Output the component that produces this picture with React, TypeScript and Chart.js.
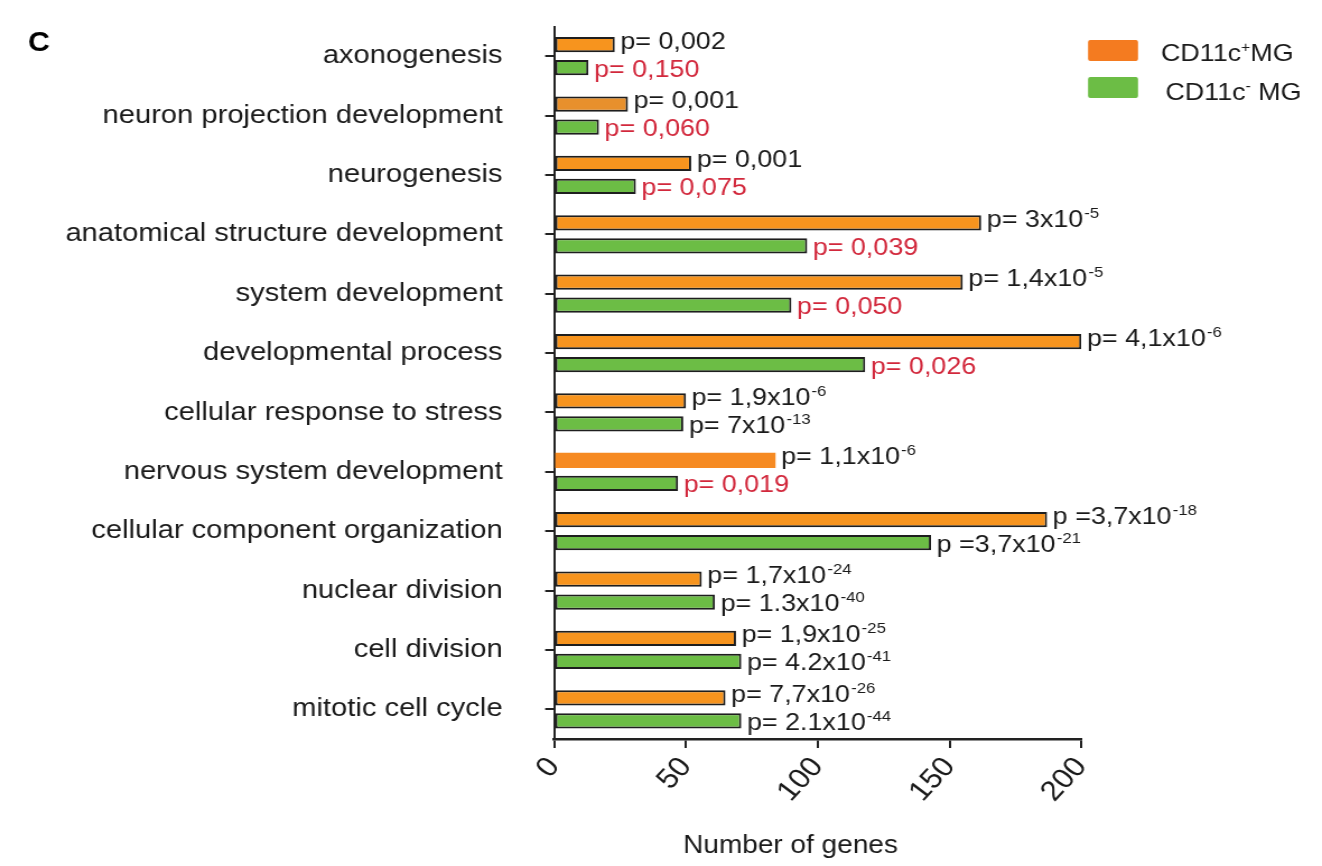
import React, { useEffect, useRef } from "react";
import { Chart, registerables } from "chart.js";

Chart.register(...registerables);

// ---------------- data ----------------
const categories = [
  "axonogenesis",
  "neuron projection development",
  "neurogenesis",
  "anatomical structure development",
  "system development",
  "developmental process",
  "cellular response to stress",
  "nervous system development",
  "cellular component organization",
  "nuclear division",
  "cell division",
  "mitotic cell cycle",
];

const cd11cPosGenes = [23, 28, 52, 162, 155, 200, 50, 84, 187, 56, 69, 65];
const cd11cNegGenes = [13, 17, 31, 96, 90, 118, 49, 47, 143, 61, 71, 71];

const cd11cPosPBase = [
  "p= 0,002", "p= 0,001", "p= 0,001", "p= 3x10", "p= 1,4x10", "p= 4,1x10",
  "p= 1,9x10", "p= 1,1x10", "p =3,7x10", "p= 1,7x10", "p= 1,9x10", "p= 7,7x10",
];
const cd11cPosPExp = ["", "", "", "-5", "-5", "-6", "-6", "-6", "-18", "-24", "-25", "-26"];

const cd11cNegPBase = [
  "p= 0,150", "p= 0,060", "p= 0,075", "p= 0,039", "p= 0,050", "p= 0,026",
  "p= 7x10", "p= 0,019", "p =3,7x10", "p= 1.3x10", "p= 4.2x10", "p= 2.1x10",
];
const cd11cNegPExp = ["", "", "", "", "", "", "-13", "", "-21", "-40", "-41", "-44"];
const cd11cNegNotSignificant = [true, true, true, true, true, true, false, true, false, false, false, false];

const xTickValues = [0, 50, 100, 150, 200];
const xTitle = "Number of genes";
const panelLetter = "C";

// ---------------- styles ----------------
const STRETCH = 1.12; // the reference figure is horizontally stretched
const CSS_W = 1322;
const CSS_H = 866;
const CW = Math.round(CSS_W / STRETCH);
const CH = CSS_H;

const FONT = '"Liberation Sans", Arial, Helvetica, sans-serif';
const TEXT = "#1a1a1a";
const RED = "#D2283C";
const ORANGE = "#F7941E";
const GREEN = "#6CBD45";
const BORDER = "#1e1e1e";
const posColors = [ORANGE, "#E8902C", ORANGE, ORANGE, ORANGE, ORANGE, ORANGE, "#F68A22", ORANGE, ORANGE, ORANGE, ORANGE];
const posBorders = [2, 2, 2, 2, 2, 2, 2, 0, 2, 2, 2, 2];

function drawPText(ctx: CanvasRenderingContext2D, x: number, y: number, base: string, exp: string, color: string) {
  ctx.fillStyle = color;
  ctx.textAlign = "left";
  ctx.textBaseline = "alphabetic";
  ctx.font = `24px ${FONT}`;
  ctx.fillText(base, x, y);
  if (exp) {
    const w = ctx.measureText(base).width;
    ctx.font = `15px ${FONT}`;
    ctx.fillText(exp, x + w + 1, y - 9);
  }
}

const annotationPlugin = {
  id: "annotations",
  afterDatasetsDraw(chart: any) {
    const ctx: CanvasRenderingContext2D = chart.ctx;
    ctx.save();
    const posMeta = chart.getDatasetMeta(0);
    posMeta.data.forEach((bar: any, j: number) => {
      drawPText(ctx, bar.x + 5, bar.y + 4, cd11cPosPBase[j], cd11cPosPExp[j], TEXT);
    });
    const negMeta = chart.getDatasetMeta(1);
    negMeta.data.forEach((bar: any, j: number) => {
      drawPText(ctx, bar.x + 5, bar.y + 9, cd11cNegPBase[j], cd11cNegPExp[j], cd11cNegNotSignificant[j] ? RED : TEXT);
    });
    ctx.restore();
  },
  afterDraw(chart: any) {
    const ctx: CanvasRenderingContext2D = chart.ctx;
    const area = chart.chartArea;
    ctx.save();
    // panel letter
    ctx.fillStyle = "#000";
    ctx.font = `bold 27px ${FONT}`;
    ctx.textAlign = "left";
    ctx.textBaseline = "alphabetic";
    ctx.fillText(panelLetter, 25, 51);

    // axis title
    ctx.fillStyle = TEXT;
    ctx.font = `25px ${FONT}`;
    ctx.textAlign = "center";
    ctx.fillText(xTitle, area.left + 211, 853);

    // legend
    const lx = area.right + 6;
    const tx = lx + 65;
    const entries = [
      { color: "#F47B20", top: 40, pre: "CD11c", sup: "+", post: "MG", base: 61 },
      { color: GREEN, top: 77, pre: "CD11c", sup: "-", post: " MG", base: 100 },
    ];
    entries.forEach((e, i) => {
      ctx.fillStyle = e.color;
      ctx.beginPath();
      (ctx as any).roundRect ? (ctx as any).roundRect(lx, e.top, 44.6, 21, 2) : ctx.rect(lx, e.top, 44.6, 21);
      ctx.fill();
      ctx.fillStyle = TEXT;
      ctx.textAlign = "left";
      ctx.font = `24px ${FONT}`;
      const x0 = tx + (i === 1 ? 4 : 0);
      ctx.fillText(e.pre, x0, e.base);
      let w = ctx.measureText(e.pre).width;
      ctx.font = `14px ${FONT}`;
      ctx.fillText(e.sup, x0 + w, e.base - 9);
      w += ctx.measureText(e.sup).width;
      ctx.font = `24px ${FONT}`;
      ctx.fillText(e.post, x0 + w, e.base);
    });
    ctx.restore();
  },
};

export default function App() {
  const ref = useRef<HTMLCanvasElement>(null);
  useEffect(() => {
    document.body.style.margin = "0";
    document.body.style.overflow = "hidden";
    Chart.defaults.font.family = FONT;
    const chart = new Chart(ref.current as HTMLCanvasElement, {
      type: "bar",
      data: {
        labels: categories,
        datasets: [
          {
            label: "CD11c+MG",
            data: cd11cPosGenes,
            backgroundColor: posColors,
            borderColor: BORDER,
            borderWidth: posBorders,
            borderSkipped: false,
            categoryPercentage: 0.776,
            barPercentage: 0.66,
          },
          {
            label: "CD11c- MG",
            data: cd11cNegGenes,
            backgroundColor: GREEN,
            borderColor: BORDER,
            borderWidth: 2,
            borderSkipped: false,
            categoryPercentage: 0.776,
            barPercentage: 0.66,
          },
        ],
      },
      options: {
        indexAxis: "y",
        responsive: false,
        animation: false,
        devicePixelRatio: 1,
        layout: { padding: { left: 0, right: CW - 965.2, top: 26.5, bottom: 0 } },
        plugins: { legend: { display: false }, tooltip: { enabled: false } },
        scales: {
          y: {
            type: "category",
            offset: true,
            afterFit: (scale: any) => {
              scale.width = 494.6;
              scale.paddingTop = 0;
              scale.paddingBottom = 0;
            },
            grid: {
              display: true,
              drawOnChartArea: false,
              drawTicks: true,
              tickLength: 8,
              offset: false,
              color: "#222",
              lineWidth: 2,
            },
            border: { display: true, color: "#222", width: 2 },
            ticks: {
              color: TEXT,
              font: { size: 26, family: FONT },
              padding: 38,
            },
          },
          x: {
            type: "linear",
            min: 0,
            max: 200,
            afterFit: (scale: any) => {
              scale.height = 127;
            },
            afterBuildTicks: (scale: any) => {
              scale.ticks = xTickValues.map((v) => ({ value: v }));
            },
            grid: {
              display: true,
              drawOnChartArea: false,
              drawTicks: true,
              tickLength: 9,
              color: "#222",
              lineWidth: 2,
            },
            border: { display: true, color: "#222", width: 2.5 },
            ticks: {
              color: TEXT,
              font: { size: 28, family: FONT },
              minRotation: 50,
              maxRotation: 50,
              padding: 3,
              autoSkip: false,
            },
          },
        },
      },
      plugins: [annotationPlugin],
    } as any);
    return () => chart.destroy();
  }, []);
  return (
    <canvas
      ref={ref}
      width={CW}
      height={CH}
      style={{ width: `${CSS_W}px`, height: `${CSS_H}px`, display: "block" }}
    />
  );
}
